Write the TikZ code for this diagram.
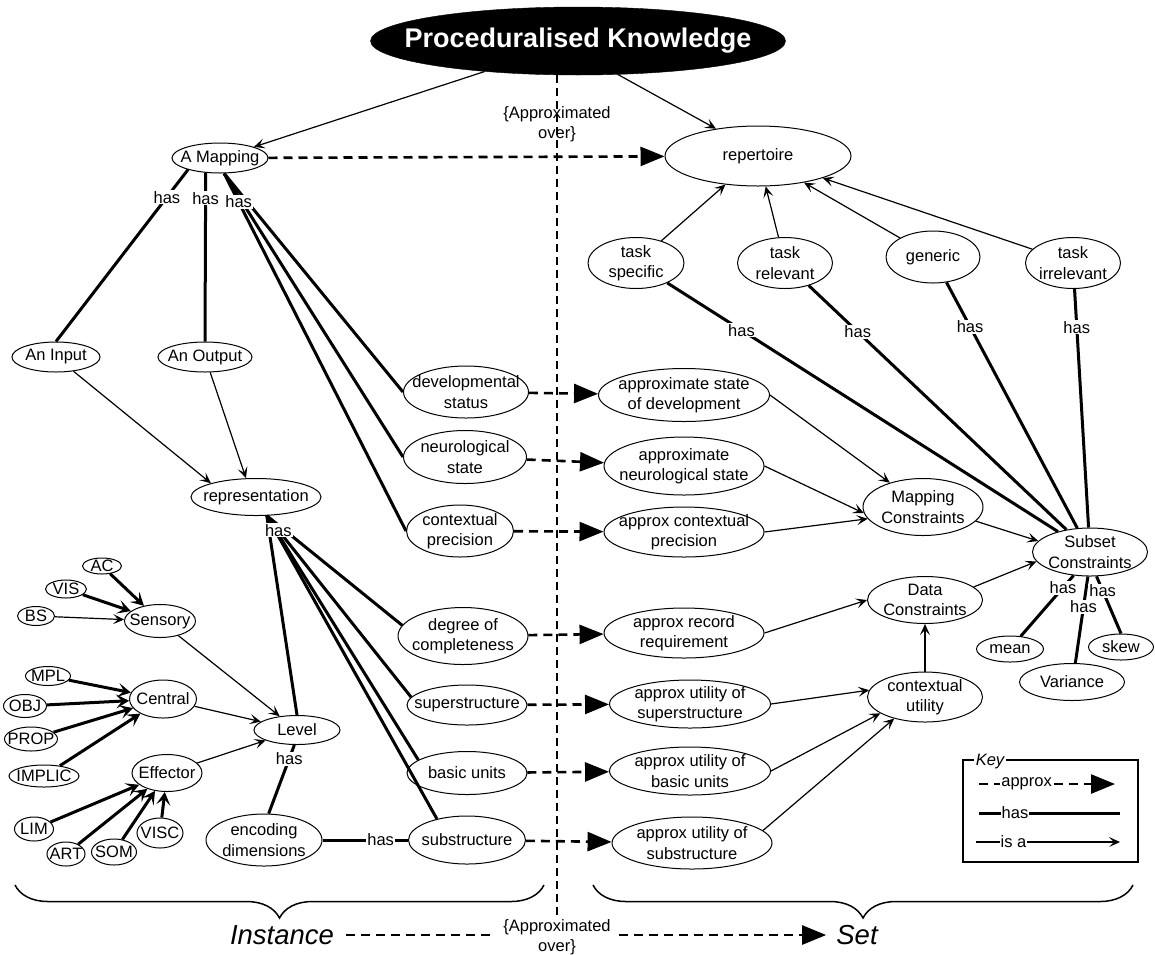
\documentclass[tikz,border=0pt]{standalone}
\usepackage{fontspec}
\setmainfont{Liberation Sans}
\usetikzlibrary{arrows.meta,shapes.geometric,decorations.pathreplacing}

\tikzset{
  txt/.style={font=\fontsize{16.5}{20.5}\selectfont, align=center, inner sep=0pt},
  ell/.style n args={3}{draw, ellipse, line width=1pt, inner sep=0pt,
    minimum width=#1pt, minimum height=#2pt, label={[txt]center:{#3}}},
  pktxt/.style={font=\fontsize{27}{30}\selectfont\bfseries, text=white, inner sep=0pt},
  isa/.style={line width=1.2pt, -{Stealth[length=11pt,width=10pt,inset=5pt]}},
  has/.style={line width=3pt},
  hasto/.style={line width=3pt, -{Stealth[length=13pt,width=14pt,inset=6pt]}},
  approx/.style={line width=2.6pt, dash pattern=on 9pt off 6pt, -{Triangle[length=24pt,width=19pt]}},
  vline/.style={line width=1.1pt, dash pattern=on 8pt off 5pt},
  haslbl/.style={txt, fill=white, inner sep=1pt},
  big/.style={font=\fontsize{27.5}{30}\selectfont\itshape, inner sep=0pt},
  brc/.style={line width=1.5pt, decorate, decoration={brace, mirror, amplitude=33pt}}
}

\begin{document}
\begin{tikzpicture}[x=1pt, y=-1pt]
  \useasboundingbox (0,0) rectangle (1155,954);

  \node[draw, ellipse, fill=black, inner sep=0pt, minimum width=415pt, minimum height=68pt,
    label={[pktxt]center:Proceduralised Knowledge}] (pk) at (578,41) {};
  \node[ell={96}{30}{A Mapping}] (mapping) at (220,158) {};
  \node[ell={186}{60}{repertoire}] (rep) at (758,156) {};
  \node[ell={96}{51}{task\\specific}] (tspec) at (636,263) {};
  \node[ell={95}{51}{task\\relevant}] (trel) at (785,263) {};
  \node[ell={94}{52}{generic}] (gen) at (933,257) {};
  \node[ell={95}{51}{task\\irrelevant}] (tirr) at (1073,263) {};

  \node[ell={88}{30}{An Input}] (input) at (56,357) {};
  \node[ell={94}{30}{An Output}] (output) at (205,357) {};
  \node[ell={130}{37}{representation}] (repn) at (256,497) {};

  \node[ell={125}{52}{developmental\\status}] (devstat) at (466,392) {};
  \node[ell={123}{53}{neurological\\state}] (neuro) at (465,457) {};
  \node[ell={107}{52}{contextual\\precision}] (ctxprec) at (460,531) {};
  \node[ell={130}{57}{degree of\\completeness}] (degree) at (463,636) {};
  \node[ell={120}{40}{superstructure}] (super) at (467,705) {};
  \node[ell={120}{43}{basic units}] (basic) at (467,773) {};
  \node[ell={117}{48}{substructure}] (sub) at (467,840) {};

  \node[ell={171}{53}{approximate state\\of development}] (asd) at (684,395) {};
  \node[ell={160}{58}{approximate\\neurological state}] (ans) at (684,466) {};
  \node[ell={160}{50}{approx contextual\\precision}] (acp) at (684,532) {};
  \node[ell={160}{50}{approx record\\requirement}] (arr) at (684,633) {};
  \node[ell={161}{48}{approx utility of\\superstructure}] (aus) at (690,704) {};
  \node[ell={161}{48}{approx utility of\\basic units}] (aub) at (690,771) {};
  \node[ell={160}{52}{approx utility of\\substructure}] (aubs) at (692,843) {};

  \node[ell={120}{57}{Mapping\\Constraints}] (mc) at (923,507) {};
  \node[ell={115}{48}{Subset\\Constraints}] (subset) at (1090,552) {};
  \node[ell={115}{47}{Data\\Constraints}] (dc) at (925,600) {};
  \node[ell={115}{50}{contextual\\utility}] (ctxu) at (925,697) {};
  \node[ell={67}{26}{mean}] (mean) at (1010,649) {};
  \node[ell={65}{26}{skew}] (skew) at (1121,647) {};
  \node[ell={105}{37}{Variance}] (var) at (1072,682) {};

  \node[ell={86}{29}{Level}] (level) at (297,730) {};
  \node[ell={116}{52}{encoding\\dimensions}] (enc) at (264,840) {};
  \node[ell={71}{33}{Sensory}] (sensory) at (160,621) {};
  \node[ell={67}{38}{Central}] (central) at (163,699) {};
  \node[ell={70}{37}{Effector}] (effector) at (167,773) {};
  \node[ell={39}{16}{AC}] (ac) at (102,566) {};
  \node[ell={41}{18}{VIS}] (vis) at (66,589) {};
  \node[ell={37}{19}{BS}] (bs) at (36,616) {};
  \node[ell={45}{19}{MPL}] (mpl) at (48,676) {};
  \node[ell={43}{23}{OBJ}] (obj) at (25,706) {};
  \node[ell={53}{24}{PROP}] (prop) at (31,739) {};
  \node[ell={70}{22}{IMPLIC}] (implic) at (44,776) {};
  \node[ell={39}{24}{LIM}] (lim) at (34,829) {};
  \node[ell={38}{24}{ART}] (art) at (66,854) {};
  \node[ell={45}{26}{SOM}] (som) at (114,852) {};
  \node[ell={46}{30}{VISC}] (visc) at (160,833) {};

  \node[txt] (apxt) at (557,124) {\{Approximated\\over\}};
  \node[txt, inner xsep=8pt] (apxb) at (557,937) {\{Approximated\\over\}};
  \node[big] (inst) at (282,935) {Instance};
  \node[big] (set) at (857,935) {Set};

  \draw[vline] (pk.south -| apxb) -- (apxb.north);

  \draw[isa] (pk) -- (mapping);
  \draw[isa] (pk.-40) -- (rep.147);
  \foreach \t in {tspec,trel,gen,tirr} \draw[isa] (\t) -- (rep);
  \draw[isa] (input) -- (repn.163);
  \draw[isa] (output) -- (repn.118);
  \draw[isa] (bs) -- (sensory);
  \foreach \s in {sensory,central,effector} \draw[isa] (\s) -- (level);
  \draw[isa] (asd.east) -- (mc);
  \draw[isa] (ans.east) -- (mc.186);
  \draw[isa] (acp.east) -- (mc.192);
  \draw[isa] (mc.-15) -- (subset.168);
  \draw[isa] (arr.east) -- (dc.west);
  \draw[isa] (dc.15) -- (subset.190);
  \draw[isa] (aus.east) -- (ctxu.173);
  \draw[isa] (aub.east) -- (ctxu.200);
  \draw[isa] (aubs.10) -- (ctxu.215);
  \draw[isa] (ctxu) -- (dc);

  \foreach \s in {ac,vis} \draw[hasto] (\s) -- (sensory);
  \foreach \s in {mpl,obj,prop,implic} \draw[hasto] (\s) -- (central);
  \foreach \s in {lim,art,som,visc} \draw[hasto] (\s) -- (effector);

  \draw[has] (mapping.200) -- (input.north) node[haslbl, pos=0.16] {has};
  \draw[has] (mapping.226) -- (output.north) node[haslbl, pos=0.15] {has};
  \draw[has] (mapping.-75) -- (devstat.west);
  \draw[has] (mapping.-75) -- (neuro.west);
  \draw[has] (mapping.-75) -- (ctxprec.west) node[haslbl, pos=0.08] {has};
  \foreach \t/\a in {level/north,degree/170,basic/165,sub/145}
    \draw[has] (repn.-60) -- (\t.\a);
  \draw[has] (repn.-60) -- (super.172) node[haslbl, pos=0.08] {has};
  \draw[has] (level.-100) -- (enc.80) node[haslbl, pos=0.2] {has};
  \draw[has] (enc) -- (sub) node[haslbl, pos=0.68] {has};
  \draw[has] (tspec) -- (subset) node[haslbl, pos=0.19] {has};
  \draw[has] (trel) -- (subset) node[haslbl, pos=0.19] {has};
  \draw[has] (gen) -- (subset) node[haslbl, pos=0.18] {has};
  \draw[has] (tirr) -- (subset) node[haslbl, pos=0.16] {has};
  \draw[has] (subset.235) -- (mean.50) node[haslbl, pos=0.2] {has};
  \draw[has] (subset.-95) -- (var.80) node[haslbl, pos=0.35] {has};
  \draw[has] (subset.-75) -- (skew.north) node[haslbl, pos=0.25] {has};

  \draw[approx] (mapping) -- (rep);
  \draw[approx] (devstat) -- (asd);
  \draw[approx] (neuro) -- (ans);
  \draw[approx] (ctxprec) -- (acp);
  \draw[approx] (degree) -- (arr);
  \draw[approx] (super) -- (aus);
  \draw[approx] (basic) -- (aub);
  \draw[approx] (sub) -- (aubs);

  \draw[brc] (15,885) -- (544,885);
  \draw[brc] (593,885) -- (1133,885);
  \draw[approx, -] (inst.east) ++(12,0) -- (inst.east -| apxb.west);
  \draw[approx] (apxb.east |- set.west) -- ([xshift=-10pt]set.west);

  \node[draw, line width=2pt, minimum width=175pt, minimum height=102pt, inner sep=0pt] (key) at (1050.5,811) {};
  \node[txt, font=\fontsize{16.5}{20}\selectfont\itshape, fill=white, inner xsep=2pt] (keytitle) at (990,762) {Key};
  \coordinate (ka) at (979,784);
  \coordinate (kb) at (1115,784);
  \coordinate (kc) at (979,813);
  \coordinate (kd) at (1120,813);
  \coordinate (ke) at (976,842);
  \coordinate (kf) at (1120,842);
  \draw[approx] (ka) -- (kb) node[haslbl, pos=0.35] {approx};
  \draw[has] (kc) -- (kd) node[haslbl, pos=0.255] {has};
  \draw[isa] (ke) -- (kf) node[haslbl, pos=0.26] {is a};
\end{tikzpicture}
\end{document}
